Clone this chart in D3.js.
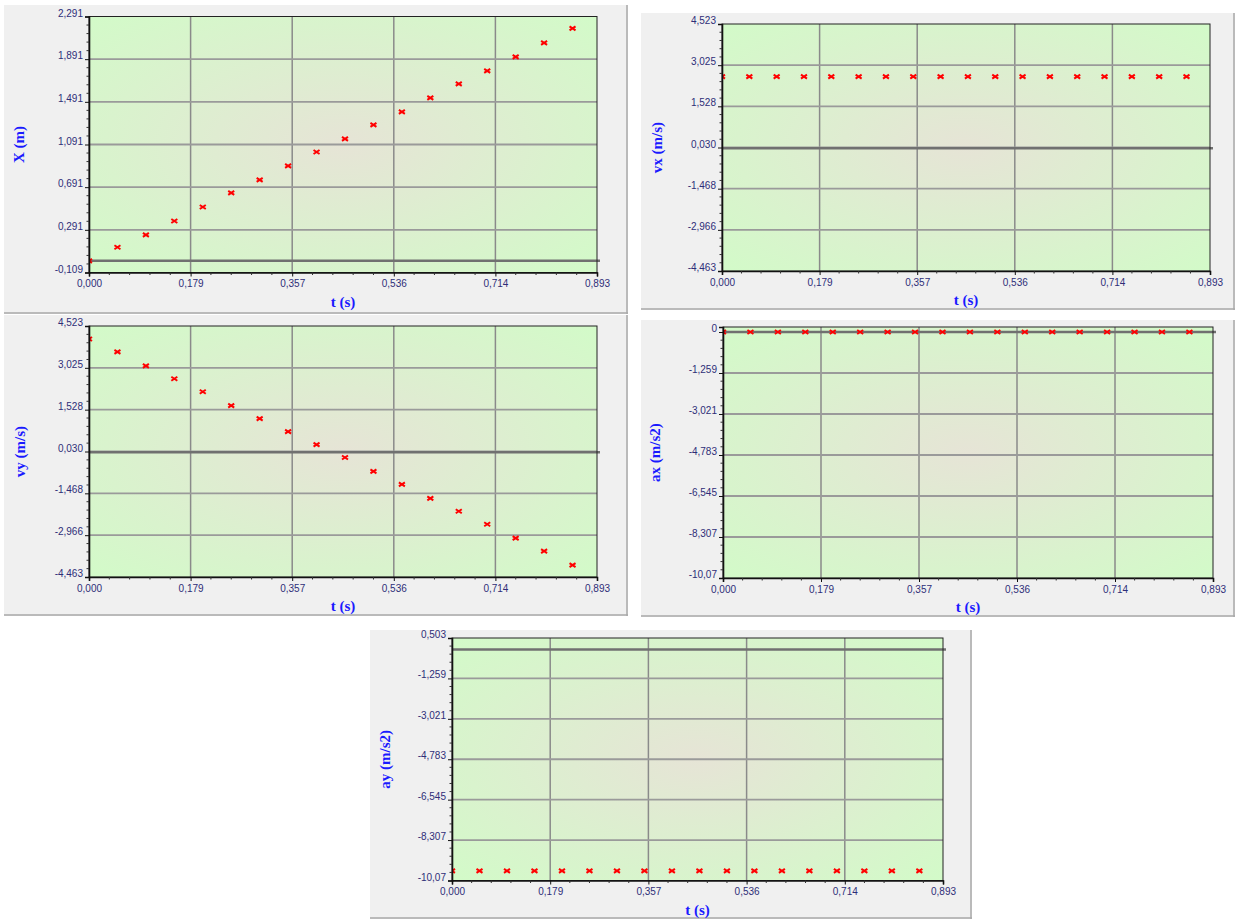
<!DOCTYPE html>
<html><head><meta charset="utf-8">
<script src="https://cdn.jsdelivr.net/npm/d3@7"></script>
<style>body{margin:0;background:#fff;}svg{display:block}</style>
</head><body><svg id="c" width="1235" height="919"></svg>
<script>
// ---------- data ----------
const tValues  = [0.00,0.05,0.10,0.15,0.20,0.25,0.30,0.35,0.40,0.45,0.50,0.55,0.60,0.65,0.70,0.75,0.80,0.85];
const xValues  = [0.000,0.128,0.243,0.374,0.505,0.637,0.759,0.890,1.021,1.143,1.275,1.397,1.528,1.659,1.781,1.913,2.044,2.180];
const vxValues = [2.61,2.61,2.61,2.61,2.61,2.61,2.61,2.61,2.61,2.61,2.61,2.61,2.61,2.61,2.61,2.61,2.61,2.61];
const vyValues = [4.059,3.596,3.096,2.633,2.169,1.670,1.206,0.743,0.279,-0.184,-0.684,-1.147,-1.647,-2.110,-2.574,-3.073,-3.537,-4.036];
const axValues = [0,0,0,0,0,0,0,0,0,0,0,0,0,0,0,0,0,0];
const ayValues = [-9.65,-9.65,-9.65,-9.65,-9.65,-9.65,-9.65,-9.65,-9.65,-9.65,-9.65,-9.65,-9.65,-9.65,-9.65,-9.65,-9.65,-9.65];

const tTickValues = [0,0.1786,0.3572,0.5358,0.7144,0.893];
const tTickLabels = ["0,000","0,179","0,357","0,536","0,714","0,893"];

const xTicks  = [-0.109,0.291,0.691,1.091,1.491,1.891,2.291];
const xLabels = ["-0,109","0,291","0,691","1,091","1,491","1,891","2,291"];
const vTicks  = [-4.463,-2.966,-1.468,0.030,1.528,3.025,4.523];
const vLabels = ["-4,463","-2,966","-1,468","0,030","1,528","3,025","4,523"];
const axTicks  = [-10.07,-8.307,-6.545,-4.783,-3.021,-1.259,0];
const axLabels = ["-10,07","-8,307","-6,545","-4,783","-3,021","-1,259","0"];
const ayTicks  = [-10.07,-8.307,-6.545,-4.783,-3.021,-1.259,0.503];
const ayLabels = ["-10,07","-8,307","-6,545","-4,783","-3,021","-1,259","0,503"];

// ---------- layout ----------
const panels = [
  {box:[4,5,624,309],   plot:[89,16.5,597,272.5], yDomain:[-0.109,2.291], yTicks:xTicks, yLabels:xLabels, vals:xValues,  title:"X (m)",     tx:-70},
  {box:[641,13,594,297],plot:[722,24,1210,271],   yDomain:[-4.463,4.523], yTicks:vTicks, yLabels:vLabels, vals:vxValues, title:"vx (m/s)",  tx:-65},
  {box:[4,315,624,301], plot:[89,326,597,577],    yDomain:[-4.463,4.523], yTicks:vTicks, yLabels:vLabels, vals:vyValues, title:"vy (m/s)",  tx:-69},
  {box:[641,320,594,297],plot:[723,327,1213,578], yDomain:[-10.07,-1.259,0,0.21], yRange:[578,373,332,327], yTicks:axTicks, yLabels:axLabels, vals:axValues, title:"ax (m/s2)", tx:-68},
  {box:[370,630,602,289],plot:[452,638,943,880.5], yDomain:[-10.07,0.503], yTicks:ayTicks, yLabels:ayLabels, vals:ayValues, title:"ay (m/s2)", tx:-67}
];

const svg = d3.select("#c");
const defs = svg.append("defs");
const grad = defs.append("radialGradient").attr("id","bg").attr("cx","50%").attr("cy","50%").attr("r","72%");
grad.append("stop").attr("offset","0%").attr("stop-color","#e6e4d6");
grad.append("stop").attr("offset","100%").attr("stop-color","#d2fbc8");

const tickColor = "#2e2e78", titleColor = "#1a1aff";

panels.forEach((p, i) => {
  const [bx,by,bw,bh] = p.box;
  const [l,t,r,b] = p.plot;
  const g = svg.append("g");
  // panel background
  g.append("rect").attr("x",bx).attr("y",by).attr("width",bw).attr("height",bh).attr("fill","#f0f0f0");
  g.append("line").attr("x1",bx+bw-1).attr("x2",bx+bw-1).attr("y1",by).attr("y2",by+bh).attr("stroke","#a8a8a8").attr("stroke-width",1.5);
  g.append("line").attr("x1",bx).attr("x2",bx+bw).attr("y1",by+bh-1).attr("y2",by+bh-1).attr("stroke","#a8a8a8").attr("stroke-width",1.5);

  const x = d3.scaleLinear().domain([0,0.893]).range([l,r]);
  const y = d3.scaleLinear().domain(p.yDomain).range(p.yRange || [b,t]);

  defs.append("clipPath").attr("id","clip"+i).append("rect").attr("x",l).attr("y",t).attr("width",r-l).attr("height",b-t);

  g.append("rect").attr("x",l).attr("y",t).attr("width",r-l).attr("height",b-t).attr("fill","url(#bg)");

  // grid
  g.selectAll(".vg").data(tTickValues.slice(1,-1)).join("line")
    .attr("x1",d=>x(d)).attr("x2",d=>x(d)).attr("y1",t).attr("y2",b)
    .attr("stroke","#8a8a8a").attr("stroke-width",1.5);
  g.selectAll(".hg").data(p.yTicks.slice(1,-1)).join("line")
    .attr("x1",l).attr("x2",r).attr("y1",d=>y(d)).attr("y2",d=>y(d))
    .attr("stroke","#9a9a9a").attr("stroke-width",1.8);

  // zero line
  g.append("line").attr("x1",l).attr("x2",r+3).attr("y1",y(0)).attr("y2",y(0))
    .attr("stroke","#707070").attr("stroke-width",2.5);

  // markers
  g.append("g").attr("clip-path",`url(#clip${i})`).selectAll("path").data(tValues).join("path")
    .attr("transform",(d,k)=>`translate(${x(d)},${y(p.vals[k])})`)
    .attr("d","M-3,-2L3,2M-3,2L3,-2")
    .attr("stroke","#ff0000").attr("stroke-width",2).attr("fill","none");

  // frame
  g.append("rect").attr("x",l).attr("y",t).attr("width",r-l).attr("height",b-t)
    .attr("fill","none").attr("stroke","#222").attr("stroke-width",1);

  // x axis
  const xa = g.append("g").attr("transform",`translate(0,${b})`)
    .call(d3.axisBottom(x).tickValues(tTickValues).tickFormat((d,k)=>tTickLabels[k]).tickSize(4).tickPadding(3));
  const minorX = [];
  for (let k=0;k<tTickValues.length-1;k++) for (let m=1;m<5;m++) minorX.push(tTickValues[k]+(tTickValues[k+1]-tTickValues[k])*m/5);
  xa.selectAll(".mx").data(minorX).join("line").attr("x1",d=>x(d)).attr("x2",d=>x(d)).attr("y1",0).attr("y2",2.5).attr("stroke","#333");

  // y axis
  const ya = g.append("g").attr("transform",`translate(${l},0)`)
    .call(d3.axisLeft(y).tickValues(p.yTicks).tickFormat((d,k)=>p.yLabels[k]).tickSize(4).tickPadding(2));
  const minorY = [];
  for (let k=0;k<p.yTicks.length-1;k++) for (let m=1;m<5;m++) minorY.push(p.yTicks[k]+(p.yTicks[k+1]-p.yTicks[k])*m/5);
  ya.selectAll(".my").data(minorY).join("line").attr("y1",d=>y(d)).attr("y2",d=>y(d)).attr("x1",0).attr("x2",-2.5).attr("stroke","#333");

  [xa,ya].forEach(a=>{
    a.select(".domain").attr("stroke","#111").attr("stroke-width",1.6);
    a.selectAll(".tick line").attr("stroke","#111");
    a.selectAll("text").attr("fill",tickColor).style("font-family","'Liberation Sans',Arial,sans-serif").style("font-size","10px");
  });
  ya.selectAll(".tick text").attr("dy","-0.05em");
  xa.selectAll(".tick text").attr("dy","0.75em");

  // titles
  g.append("text").attr("x",(l+r)/2).attr("y",b+34).attr("text-anchor","middle")
    .attr("fill",titleColor).style("font-family","'Liberation Serif','Times New Roman',serif")
    .style("font-weight","bold").style("font-size","15px").text("t (s)");
  g.append("text").attr("transform",`translate(${l+p.tx},${(t+b)/2}) rotate(-90)`).attr("dy","0.35em")
    .attr("text-anchor","middle").attr("fill",titleColor)
    .style("font-family","'Liberation Serif','Times New Roman',serif")
    .style("font-weight","bold").style("font-size","15px").text(p.title);
});
</script>
</body></html>
